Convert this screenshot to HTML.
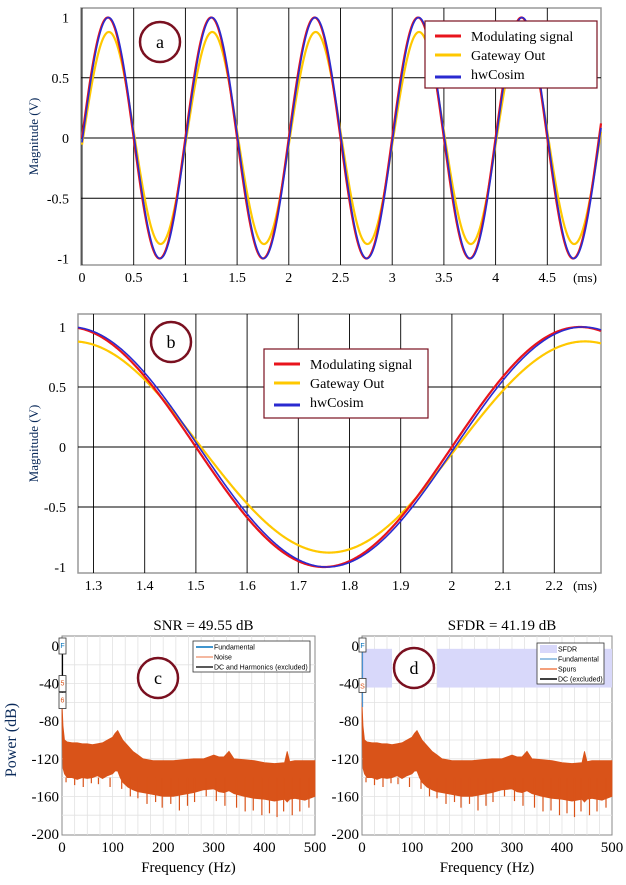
<!DOCTYPE html>
<html><head><meta charset="utf-8"><style>
html,body{margin:0;padding:0;background:#fff}
svg{display:block}
text{font-family:"Liberation Serif",serif}
.sm{font-family:"Liberation Sans",sans-serif;font-size:7px}
</style></head><body>
<svg id="fig" width="626" height="885" viewBox="0 0 626 885" xmlns="http://www.w3.org/2000/svg">
<g id="pa"></g>
<g id="pb"></g>
<g id="pc"></g>
<g id="pd"></g>
</svg>
<script>
// signal series (sine model parameters per series)
const seriesNames = ["Modulating signal","Gateway Out","hwCosim"];
const seriesColors = ["#e8141c","#ffc800","#2a2ad0"];
const amplitudes = [1.0, 0.88, 1.0];
const lagsMs = [0.0, 0.01, 0.006];
const freqKHz = 1.0;
const ticksA = [0,0.5,1,1.5,2,2.5,3,3.5,4,4.5];
const ticksB = [1.3,1.4,1.5,1.6,1.7,1.8,1.9,2,2.1,2.2];
const yTicks = [1,0.5,0,-0.5,-1];
// spectrum envelope (Hz, dB)
const specFreq = [0,2,5,10,20,30,40,50,60,70,80,90,100,105,110,115,120,130,140,150,160,180,200,220,240,260,280,300,310,320,330,340,360,380,400,420,440,445,450,460,480,500];
const specUpper = [-60,-85,-100,-102,-103,-103,-104,-104,-105,-104,-103,-100,-97,-93,-90,-95,-100,-106,-112,-116,-120,-122,-122,-122,-121,-120,-120,-116,-118,-118,-112,-120,-121,-122,-124,-125,-124,-112,-123,-122,-122,-122];
const specLower = [-80,-130,-136,-140,-140,-142,-140,-141,-140,-138,-141,-138,-136,-133,-133,-140,-145,-150,-153,-155,-156,-158,-160,-160,-158,-156,-153,-152,-155,-156,-154,-157,-160,-162,-163,-165,-163,-166,-163,-162,-164,-160];
// downward noise spikes (Hz, dB)
const spikeFreq = [8,25,42,58,72,95,118,135,150,168,185,198,215,232,248,262,285,305,322,345,362,378,395,410,425,438,455,470,488];
const spikeDb = [-145,-148,-150,-146,-147,-150,-152,-160,-162,-168,-166,-172,-168,-175,-170,-166,-160,-165,-170,-172,-176,-175,-180,-178,-182,-176,-180,-176,-172];
const specTicksX = [0,100,200,300,400,500];
const specTicksY = [0,-40,-80,-120,-160,-200];
const sfdrValue = 41.19, snrValue = 49.55;

const NS="http://www.w3.org/2000/svg";
function mk(p,tag,at,txt){const e=document.createElementNS(NS,tag);for(const k in at)e.setAttribute(k,at[k]);if(txt!==undefined)e.textContent=txt;p.appendChild(e);return e;}

function wavePanel(g,o){
  const X=t=>o.x0+(t-o.t0)*o.sx, Y=v=>o.y0-v*o.sy;
  const box=mk(g,'rect',{x:o.L,y:o.T,width:o.R-o.L,height:o.B-o.T,fill:'#fff',stroke:'#999','stroke-width':1.5});
  
  o.xt.forEach(t=>{const l=mk(g,'line',{x1:X(t),x2:X(t),y1:o.T,y2:o.B,stroke:'#000','stroke-width':0.9});});
  [0.5,0,-0.5].forEach(v=>{const l=mk(g,'line',{x1:o.L,x2:o.R,y1:Y(v),y2:Y(v),stroke:'#000','stroke-width':0.9});});
  const order=[1,0,2];
  order.forEach(i=>{let d='';const tEnd=o.t0+(o.R-o.x0)/o.sx, tS=Math.max(o.tmin,o.t0+(o.L-o.x0)/o.sx);
    for(let k=0;k<=600;k++){const t=tS+(tEnd-tS)*k/600;const v=amplitudes[i]*Math.sin(2*Math.PI*freqKHz*(t-lagsMs[i]));d+=(k?'L':'M')+X(t).toFixed(2)+','+Y(v).toFixed(2);}
    const p=mk(g,'path',{d:d,fill:'none',stroke:seriesColors[i],'stroke-width':i==2?1.6:2.2});
    });
  o.xt.forEach(t=>{const e=mk(g,'text',{x:X(t),y:o.B+17,'font-size':14,'text-anchor':'middle'},String(t));});
  const u=mk(g,'text',{x:o.R-16,y:o.B+17,'font-size':13,'text-anchor':'middle'},'(ms)');
  yTicks.forEach(v=>{const e=mk(g,'text',{x:o.L-12,y:Y(v)+5,'font-size':14,'text-anchor':'end'},String(v));});
  const yl=mk(g,'text',{x:38,y:(o.T+o.B)/2,'font-size':13,'text-anchor':'middle',fill:'#0a2a5a',transform:`rotate(-90 38 ${(o.T+o.B)/2})`},'Magnitude (V)');
  
  const lg=mk(g,'g',{});
  mk(lg,'rect',{x:o.lx,y:o.ly,width:o.lw,height:o.lh,fill:'#fff',stroke:'#7a1020','stroke-width':1.2});
  seriesNames.forEach((n,i)=>{const yy=o.ly+15+i*19;
    const ln=mk(lg,'line',{x1:o.lx+10,x2:o.lx+36,y1:yy+(i==2?3:0),y2:yy+(i==2?3:0),stroke:seriesColors[i],'stroke-width':3});
    const t=mk(lg,'text',{x:o.lx+46,y:yy+5,'font-size':14},n);});
  const c=mk(g,'circle',{cx:o.cx,cy:o.cy,r:20,fill:'#fff',stroke:'#7a1020','stroke-width':2.5});
  const ct=mk(g,'text',{x:o.cx,y:o.cy+6,'font-size':18,'text-anchor':'middle'},o.label);
}
wavePanel(document.getElementById('pa'),{L:81,R:601,T:8,B:265,x0:82,t0:0,tmin:0,sx:103.4,y0:138,sy:120.5,xt:ticksA,lx:425,ly:21,lw:172,lh:67,cx:160,cy:42,label:'a'});
wavePanel(document.getElementById('pb'),{L:78,R:601,T:314,B:573,x0:93.5,t0:1.3,tmin:-99,sx:512,y0:447,sy:120,xt:ticksB,lx:264,ly:349,lw:164,lh:69,cx:171,cy:342,label:'b'});

function specPanel(g,o){
  const X=f=>o.L+f*(o.R-o.L)/500;
  const Yd=d=>o.y0+(-d)*(o.yb-o.y0)/200;
  const bx=mk(g,'rect',{x:o.L,y:o.T,width:o.R-o.L,height:o.B-o.T,fill:'#fff',stroke:'#888','stroke-width':1});
  for(let f=25;f<500;f+=25){const l=mk(g,'line',{x1:X(f),x2:X(f),y1:o.T,y2:o.B,stroke:'#e2e2e2','stroke-width':0.8});}
  for(let d=-20;d>-200;d-=20){const l=mk(g,'line',{x1:o.L,x2:o.R,y1:Yd(d),y2:Yd(d),stroke:'#e2e2e2','stroke-width':0.8});}
  if(o.sfdr){[[o.L,o.cgap0],[o.cgap1,o.R]].forEach(s=>{const r=mk(g,'rect',{x:s[0],y:Yd(-3),width:s[1]-s[0],height:Yd(-3-sfdrValue)-Yd(-3),fill:'#d8d8fa'});});}
  let d='';specFreq.forEach((f,i)=>{d+=(i?'L':'M')+X(f).toFixed(1)+','+Yd(specUpper[i]).toFixed(1);});
  for(let i=specFreq.length-1;i>=0;i--)d+='L'+X(specFreq[i]).toFixed(1)+','+Yd(specLower[i]).toFixed(1);
  const p=mk(g,'path',{d:d+'Z',fill:'#d95319',stroke:'#d95319','stroke-width':0.8});
  spikeFreq.forEach((f,i)=>{const l=mk(g,'line',{x1:X(f),x2:X(f),y1:Yd(-140),y2:Yd(spikeDb[i]),stroke:'#d95319','stroke-width':1.2});
    });
  const dc=mk(g,'line',{x1:X(0)+0.5,x2:X(0)+0.5,y1:Yd(0),y2:Yd(-65),stroke:o.sfdr?'#4a90d0':'#000','stroke-width':1.2});
  const mb=o.sfdr?[[0,'F'],[-43,'S']]:[[0,'F'],[-40,'5'],[-58,'6']];
  mb.forEach(m=>{const r=mk(g,'rect',{x:X(0)-3,y:Yd(m[0])-8,width:7,height:o.sfdr?14:16,fill:'#fff',stroke:'#333','stroke-width':0.8});
    mk(g,'text',{x:X(0)+0.5,y:Yd(m[0])+2,'font-size':6,'text-anchor':'middle',fill:m[1]=='F'?'#0072bd':'#d95319',class:'sm'},m[1]);});
  specTicksX.forEach(f=>{const t=mk(g,'text',{x:X(f),y:o.B+17,'font-size':15,'text-anchor':'middle'},String(f));});
  specTicksY.forEach(v=>{const t=mk(g,'text',{x:o.L-3,y:Yd(v)+5,'font-size':15,'text-anchor':'end'},String(v));});
  const xl=mk(g,'text',{x:(o.L+o.R)/2,y:872,'font-size':15,'text-anchor':'middle'},'Frequency (Hz)');
  const ti=mk(g,'text',{x:(o.L+o.R)/2+o.tdx,y:630,'font-size':15,'text-anchor':'middle'},o.title);
  const lg=mk(g,'g',{});
  mk(lg,'rect',{x:o.lx,y:o.ly,width:o.lw,height:o.lh,fill:'#fff',stroke:'#333','stroke-width':0.8});
  o.leg.forEach((e,i)=>{const yy=o.ly+6+i*o.lstep;
    if(e[2])mk(lg,'rect',{x:o.lx+3,y:yy-4,width:17,height:8,fill:e[1]});else mk(lg,'line',{x1:o.lx+3,x2:o.lx+20,y1:yy,y2:yy,stroke:e[1],'stroke-width':1.5});
    const t=mk(lg,'text',{x:o.lx+21,y:yy+2.5,class:'sm'},e[0]);});
  const c=mk(g,'circle',{cx:o.cx,cy:o.cy,r:20,fill:'#fff',stroke:'#7a1020','stroke-width':2.5});
  const ct=mk(g,'text',{x:o.cx,y:o.cy+6,'font-size':18,'text-anchor':'middle'},o.label);
}
specPanel(document.getElementById('pc'),{L:62,R:315,T:636,B:835,y0:646,yb:834,title:'SNR = '+snrValue+' dB',tdx:15,lx:193,ly:641,lw:117,lh:31,lstep:10,
  leg:[['Fundamental','#0072bd'],['Noise','#f0a080'],['DC and Harmonics (excluded)','#222']],cx:158,cy:678,label:'c'});
specPanel(document.getElementById('pd'),{L:362,R:612,T:636,B:835,y0:646,yb:834,title:'SFDR = '+sfdrValue+'  dB',tdx:15,sfdr:true,cgap0:392,cgap1:437,lx:537,ly:643,lw:67,lh:41,lstep:10,
  leg:[['SFDR','#d8d8fa',1],['Fundamental','#7ab0dc'],['Spurs','#f08050'],['DC (excluded)','#000']],cx:414,cy:668,label:'d'});
const pl=mk(document.getElementById('pc'),'text',{x:16,y:740,'font-size':16,'text-anchor':'middle',fill:'#0a2a5a',transform:'rotate(-90 16 740)'},'Power (dB)');


</script>
</body></html>
